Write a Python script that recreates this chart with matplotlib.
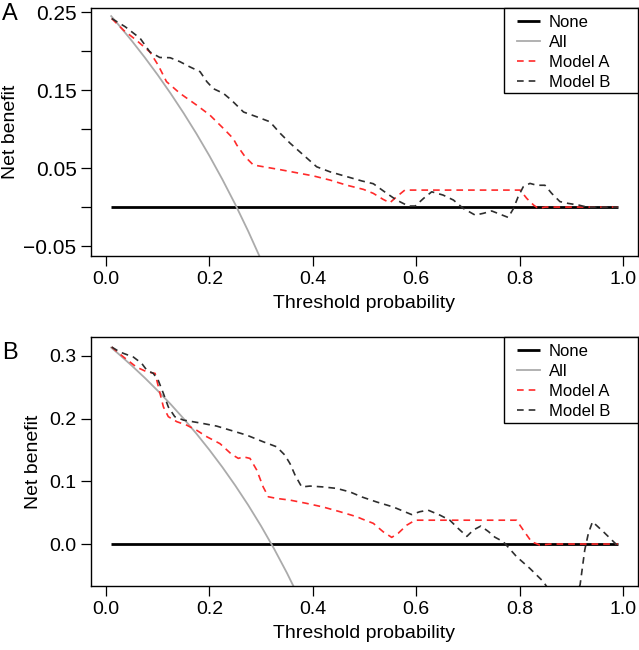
import matplotlib
matplotlib.use("Agg")
import matplotlib.pyplot as plt
from matplotlib.patches import Rectangle

plt.rcParams['font.family'] = ['Liberation Sans', 'DejaVu Sans']

# ---------------- Panel A data ----------------
A_none_x = [0.01, 0.99]
A_none_y = [0.0, 0.0]

A_all_x = [0.01, 0.025, 0.05, 0.075, 0.1, 0.125, 0.15, 0.175, 0.2, 0.225, 0.25, 0.275, 0.3]
A_all_y = [0.2451, 0.2334, 0.2133, 0.1920, 0.1696, 0.1458, 0.1207, 0.0941, 0.0658, 0.0356, 0.0035, -0.0309, -0.0677]

A_modelA_x = [0.011, 0.034, 0.059, 0.085, 0.101, 0.117, 0.143, 0.175, 0.201, 0.227, 0.246,
              0.253, 0.269, 0.285, 0.311, 0.337, 0.369, 0.401, 0.433, 0.466, 0.498,
              0.517, 0.536, 0.549, 0.562, 0.578, 0.70, 0.801, 0.814, 0.827, 0.836, 0.85, 0.99]
A_modelA_y = [0.242, 0.227, 0.214, 0.199, 0.182, 0.161, 0.146, 0.131, 0.118, 0.101, 0.088,
              0.0796, 0.0646, 0.054, 0.051, 0.048, 0.044, 0.040, 0.0347, 0.028, 0.0227,
              0.0176, 0.0099, 0.0055, 0.0132, 0.0218, 0.0218, 0.0218, 0.011, 0.0026, -0.0017, 0.0, 0.0]

A_modelB_x = [0.011, 0.037, 0.066, 0.085, 0.104, 0.124, 0.143, 0.162, 0.182, 0.195, 0.2075, 0.227, 0.243,
              0.266, 0.291, 0.317, 0.337, 0.356, 0.382, 0.4075, 0.433, 0.466, 0.495,
              0.517, 0.543, 0.562, 0.585, 0.598, 0.614, 0.630, 0.652, 0.672, 0.691, 0.714, 0.730, 0.746,
              0.778, 0.788, 0.797, 0.807, 0.820, 0.833, 0.849, 0.862, 0.878, 0.894, 0.914, 0.93, 0.99]
A_modelB_y = [0.242, 0.2315, 0.2166, 0.199, 0.192, 0.1917, 0.1866, 0.180, 0.1737, 0.161, 0.152, 0.146, 0.137,
              0.122, 0.116, 0.1095, 0.0946, 0.082, 0.0667, 0.0517, 0.0453, 0.039, 0.0335,
              0.030, 0.0176, 0.009, 0.0013, 0.0013, 0.011, 0.0196, 0.0154, 0.009, -0.0017, -0.0103, -0.008, -0.005,
              -0.0133, -0.002, 0.013, 0.026, 0.0304, 0.028, 0.028, 0.0176, 0.007, 0.0047, 0.0026, 0.0, 0.0]

# ---------------- Panel B data ----------------
B_none_x = [0.01, 0.99]
B_none_y = [0.0, 0.0]

B_all_x = [0.01, 0.025, 0.05, 0.075, 0.1, 0.125, 0.15, 0.175, 0.2, 0.225, 0.25, 0.275, 0.3, 0.325, 0.35, 0.375]
B_all_y = [0.3131, 0.3026, 0.2842, 0.2649, 0.2444, 0.2229, 0.2000, 0.1758, 0.15, 0.1226, 0.0933, 0.0621, 0.0286, -0.0074, -0.0462, -0.088]

B_modelA_x = [0.011, 0.034, 0.059, 0.079, 0.095, 0.103, 0.111, 0.1205, 0.137, 0.156, 0.175, 0.195, 0.2205, 0.243,
              0.256, 0.2656, 0.2785, 0.2915, 0.304, 0.314, 0.330, 0.356, 0.388, 0.420, 0.4526, 0.485, 0.495,
              0.517, 0.536, 0.5526, 0.565, 0.5816, 0.598, 0.70, 0.794, 0.807, 0.823, 0.839, 0.86, 0.99]
B_modelA_y = [0.314, 0.298, 0.282, 0.2745, 0.272, 0.245, 0.2186, 0.203, 0.195, 0.1895, 0.1815, 0.171, 0.160, 0.143,
              0.1365, 0.139, 0.1365, 0.118, 0.091, 0.0753, 0.0727, 0.070, 0.0648, 0.059, 0.0515, 0.0435, 0.040,
              0.033, 0.0196, 0.0106, 0.017, 0.030, 0.038, 0.038, 0.038, 0.0223, 0.0037, -0.0016, 0.0, 0.0]

B_modelB_x = [0.011, 0.027, 0.053, 0.069, 0.079, 0.0915, 0.101, 0.111, 0.1205, 0.133, 0.150, 0.182, 0.214, 0.243,
              0.272, 0.304, 0.330, 0.346, 0.356, 0.3656, 0.3785, 0.3946, 0.420, 0.446, 0.472, 0.495,
              0.5236, 0.5557, 0.591, 0.607, 0.623, 0.646, 0.665, 0.681, 0.698, 0.7105, 0.725, 0.740, 0.752,
              0.7685, 0.794, 0.820, 0.846, 0.87, 0.90, 0.917, 0.926, 0.933, 0.941, 0.962, 0.99]
B_modelB_y = [0.314, 0.306, 0.298, 0.288, 0.277, 0.272, 0.261, 0.240, 0.2186, 0.203, 0.1975, 0.193, 0.188, 0.1808,
              0.1736, 0.163, 0.155, 0.1417, 0.128, 0.110, 0.091, 0.0924, 0.091, 0.0887, 0.083, 0.075,
              0.067, 0.059, 0.047, 0.0515, 0.054, 0.046, 0.038, 0.025, 0.0122, 0.0223, 0.0287, 0.0197, 0.011,
              0.0037, -0.020, -0.039, -0.060, -0.09, -0.10, -0.065, -0.0096, 0.017, 0.0355, 0.0196, -0.003]

x_ticks = [0.0, 0.2, 0.4, 0.6, 0.8, 1.0]
x_ticklabels = ["0.0", "0.2", "0.4", "0.6", "0.8", "1.0"]
A_yticks = [-0.05, 0.0, 0.05, 0.10, 0.15, 0.20, 0.25]
A_yticklabels = ["\u22120.05", "", "0.05", "", "0.15", "", "0.25"]
B_yticks = [0.0, 0.1, 0.2, 0.3]
B_yticklabels = ["0.0", "0.1", "0.2", "0.3"]
legend_labels = ["None", "All", "Model A", "Model B"]

W, H = 639, 650
fig = plt.figure(figsize=(W / 100, H / 100), dpi=100)

L, R = 90.7, 638

def box(l, t, r, b):
    return [l / W, 1 - b / H, (r - l) / W, (b - t) / H]

axA = fig.add_axes(box(L, 8, R, 256))
axB = fig.add_axes(box(L, 337, R, 586))

def draw(ax, nx, ny, ax_, ay_, mx, my, bx, by, ylim, yt, ytl, ytl_size, top, bot, ylab_x):
    ax.plot(nx, ny, color='black', lw=2.0, label=legend_labels[0], solid_capstyle='butt')
    ax.plot(ax_, ay_, color='#ABABAB', lw=1.3, label=legend_labels[1])
    ax.plot(mx, my, color='#FF2A2A', lw=1.2, ls=(0, (4, 3)), label=legend_labels[2])
    ax.plot(bx, by, color='#2E2E2E', lw=1.2, ls=(0, (4, 3)), label=legend_labels[3])
    ax.set_xlim(-0.0296, 1.029)
    ax.set_ylim(*ylim)
    ax.set_xticks(x_ticks)
    ax.set_xticklabels(x_ticklabels)
    ax.set_yticks(yt)
    ax.set_yticklabels(ytl)
    ax.tick_params(direction='out', length=7.2, width=0.9, labelsize=14, colors='black')
    ax.tick_params(axis='y', labelsize=ytl_size, pad=3)
    ax.tick_params(axis='x', pad=3.5)
    for s in ax.spines.values():
        s.set_linewidth(1.0)
        s.set_color('black')
    axw = R - L
    axh = ax.get_position().height * H
    ax.set_xlabel("Threshold probability", fontsize=14, labelpad=5)
    ax.set_ylabel("Net benefit", fontsize=14, va='center')
    ax.yaxis.set_label_coords((ylab_x - L) / axw, 0.5)
    # legend box (R style: extra room on the right)
    hgt = bot - top
    rect = Rectangle(((504 - L) / axw, 1 - hgt / axh), (R - 504) / axw, hgt / axh,
                     transform=ax.transAxes, facecolor='white', edgecolor='black',
                     lw=1.0, zorder=4.5, clip_on=False)
    ax.add_patch(rect)
    leg = ax.legend(loc='upper left', bbox_to_anchor=((512 - L) / axw, 1.0 - 2 / axh), borderaxespad=0,
                    frameon=False, fontsize=12, handlelength=1.38, handletextpad=0.54,
                    labelspacing=0.3, borderpad=0.3)
    leg.set_zorder(5)

draw(axA, A_none_x, A_none_y, A_all_x, A_all_y, A_modelA_x, A_modelA_y, A_modelB_x, A_modelB_y,
     (-0.0628, 0.2555), A_yticks, A_yticklabels, 15, 8, 93, 10.5)
draw(axB, B_none_x, B_none_y, B_all_x, B_all_y, B_modelA_x, B_modelA_y, B_modelB_x, B_modelB_y,
     (-0.0669, 0.330), B_yticks, B_yticklabels, 14, 337, 423, 33.5)

fig.text(2 / W, 1 - 3 / H, "A", fontsize=17, va='top', ha='left')
fig.text(2 / W, 1 - 342 / H, "B", fontsize=17, va='top', ha='left')

fig.savefig("out.png", dpi=100)
